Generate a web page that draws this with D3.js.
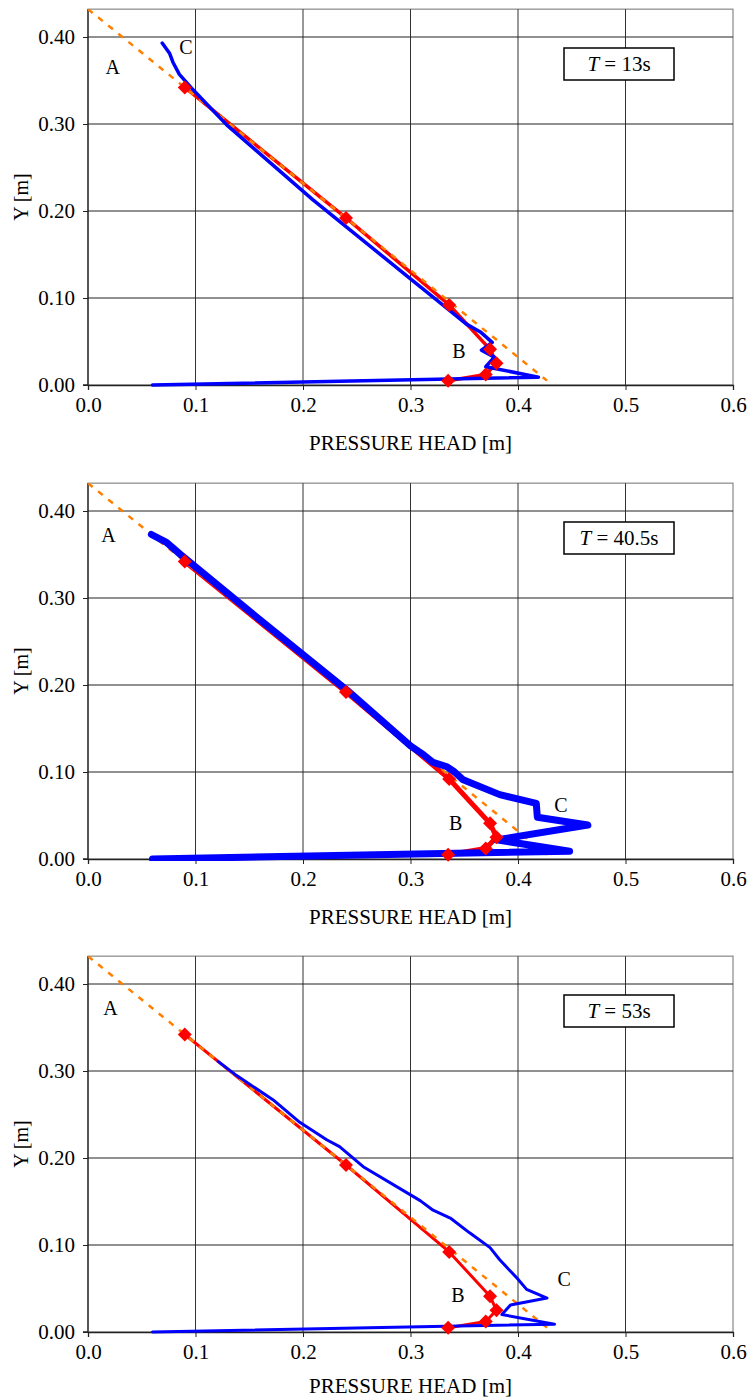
<!DOCTYPE html>
<html><head><meta charset="utf-8">
<script src="https://cdn.jsdelivr.net/npm/d3@7"></script>
<style>body{margin:0;background:#fff}svg{display:block}text{font-family:"Liberation Serif","Times New Roman",serif;fill:#000}</style>
</head><body>
<script>
const xTicks = [0.0, 0.1, 0.2, 0.3, 0.4, 0.5, 0.6];
const yTicks = [0.00, 0.10, 0.20, 0.30, 0.40];
const hydrostatic = [[0.0, 0.432], [0.427, 0.005]];
const redProfile = [[0.090,0.342],[0.240,0.192],[0.336,0.092],[0.374,0.041],[0.380,0.025],[0.370,0.012],[0.335,0.005]];
const blueT13 = [[0.06,0.000],[0.419,0.009],[0.370,0.021],[0.378,0.032],[0.366,0.040],[0.376,0.049],[0.365,0.061],[0.352,0.070],[0.334,0.088],[0.300,0.122],[0.209,0.213],[0.129,0.299],[0.098,0.339],[0.085,0.357],[0.079,0.371],[0.076,0.381],[0.069,0.393]];
const blueT40 = [[0.06,0.000],[0.448,0.009],[0.380,0.022],[0.465,0.039],[0.418,0.048],[0.417,0.064],[0.383,0.074],[0.349,0.091],[0.341,0.100],[0.334,0.106],[0.321,0.111],[0.312,0.120],[0.300,0.130],[0.241,0.194],[0.150,0.285],[0.086,0.350],[0.073,0.364],[0.059,0.373]];
const blueT53 = [[0.06,0.000],[0.434,0.009],[0.385,0.020],[0.393,0.031],[0.427,0.039],[0.408,0.049],[0.399,0.062],[0.383,0.083],[0.374,0.097],[0.355,0.114],[0.337,0.131],[0.321,0.140],[0.309,0.151],[0.256,0.190],[0.234,0.213],[0.222,0.221],[0.197,0.241],[0.172,0.267],[0.138,0.295],[0.121,0.311]];
const timeLabels = ["13s", "40.5s", "53s"];
const pointLabels = [
  [["A",0.023,0.365],["C",0.091,0.389],["B",0.345,0.039]],
  [["A",0.019,0.372],["B",0.342,0.041],["C",0.440,0.062]],
  [["A",0.021,0.372],["B",0.344,0.042],["C",0.443,0.061]]
];

const panels = [
  {blue: blueT13, bottom: 385, blueW: 3.5, redW: 3.5, time: timeLabels[0], labels: pointLabels[0], titleOff: 65},
  {blue: blueT40, bottom: 859, blueW: 7, redW: 5, time: timeLabels[1], labels: pointLabels[1], titleOff: 65},
  {blue: blueT53, bottom: 1332, blueW: 3, redW: 3, time: timeLabels[2], labels: pointLabels[2], titleOff: 61}
];

const W = 749, H = 1399;
const FONT = '"Liberation Serif","Times New Roman",serif';
const svg = d3.select("body").append("svg").attr("width", W).attr("height", H);
const left = 88, right = 733;

panels.forEach(p => {
  const x = d3.scaleLinear().domain([0, 0.6]).range([left, right]);
  const y = d3.scaleLinear().domain([0, 0.432]).range([p.bottom, p.bottom - 0.432 * 870]);
  const g = svg.append("g").attr("font-family", FONT);
  const top = y(0.432);

  g.append("rect").attr("x", left).attr("y", top).attr("width", right - left).attr("height", p.bottom - top)
    .attr("fill", "none").attr("stroke", "#888").attr("stroke-width", 1.2);
  g.selectAll(".vg").data(xTicks.slice(1, -1)).join("line")
    .attr("x1", d => x(d)).attr("x2", d => x(d)).attr("y1", top).attr("y2", p.bottom)
    .attr("stroke", "#333").attr("stroke-width", 1);
  g.selectAll(".hg").data(yTicks.slice(1)).join("line")
    .attr("x1", left).attr("x2", right).attr("y1", d => y(d)).attr("y2", d => y(d))
    .attr("stroke", "#222").attr("stroke-width", 1);

  const xa = g.append("g").attr("transform", `translate(0,${p.bottom})`)
    .call(d3.axisBottom(x).tickValues(xTicks).tickFormat(d3.format(".1f")).tickSize(5).tickPadding(7));
  const ya = g.append("g").attr("transform", `translate(${left},0)`)
    .call(d3.axisLeft(y).tickValues(yTicks).tickFormat(d3.format(".2f")).tickSize(5).tickPadding(8));
  [xa, ya].forEach(a => {
    a.attr("font-family", FONT).attr("font-size", 21);
    a.select(".domain").attr("stroke", "#222").attr("stroke-width", 1.3);
    a.selectAll(".tick line").attr("stroke", "#222");
    a.selectAll(".tick text").attr("fill", "#000");
  });
  ya.select(".domain").attr("d", `M-5,${p.bottom}H0V${top}`);

  g.append("text").attr("x", (left + right) / 2).attr("y", p.bottom + p.titleOff).attr("text-anchor", "middle")
    .attr("font-size", 21).text("PRESSURE HEAD [m]");
  g.append("text").attr("transform", `translate(28,${(top + p.bottom) / 2}) rotate(-90)`).attr("text-anchor", "middle")
    .attr("font-size", 20).text("Y  [m]");

  const line = d3.line().x(d => x(d[0])).y(d => y(d[1]));
  const clipId = "clip" + p.bottom;
  g.append("clipPath").attr("id", clipId).append("rect").attr("x", left).attr("y", top).attr("width", right - left).attr("height", p.bottom - top + 2);
  const plot = g.append("g").attr("clip-path", `url(#${clipId})`);

  plot.append("path").datum(redProfile).attr("d", line).attr("fill", "none")
    .attr("stroke", "#ff0000").attr("stroke-width", p.redW).attr("stroke-linejoin", "round");
  plot.append("path").datum(hydrostatic).attr("d", line).attr("fill", "none")
    .attr("stroke", "#ff7f00").attr("stroke-width", 2.5).attr("stroke-dasharray", "6,7");
  plot.append("path").datum(p.blue).attr("d", line).attr("fill", "none")
    .attr("stroke", "#0000ff").attr("stroke-width", p.blueW).attr("stroke-linejoin", "round").attr("stroke-linecap", "round");
  g.selectAll(".mk").data(redProfile).join("path")
    .attr("d", "M0,-7L7,0L0,7L-7,0Z")
    .attr("transform", d => `translate(${x(d[0])},${y(d[1])})`)
    .attr("fill", "#ff0000");

  g.selectAll(".pl").data(p.labels).join("text")
    .attr("x", d => x(d[1])).attr("y", d => y(d[2])).attr("text-anchor", "middle").attr("dy", "0.35em")
    .attr("font-size", 20).text(d => d[0]);

  const bx = 564, by = p.bottom - 337;
  g.append("rect").attr("x", bx).attr("y", by).attr("width", 110).attr("height", 32)
    .attr("fill", "#fff").attr("stroke", "#000").attr("stroke-width", 1.5);
  const t = g.append("text").attr("x", bx + 55).attr("y", by + 16).attr("dy", "0.35em").attr("text-anchor", "middle")
    .attr("font-size", 21);
  t.append("tspan").attr("font-style", "italic").text("T");
  t.append("tspan").text(" = " + p.time);
});
</script>
</body></html>
